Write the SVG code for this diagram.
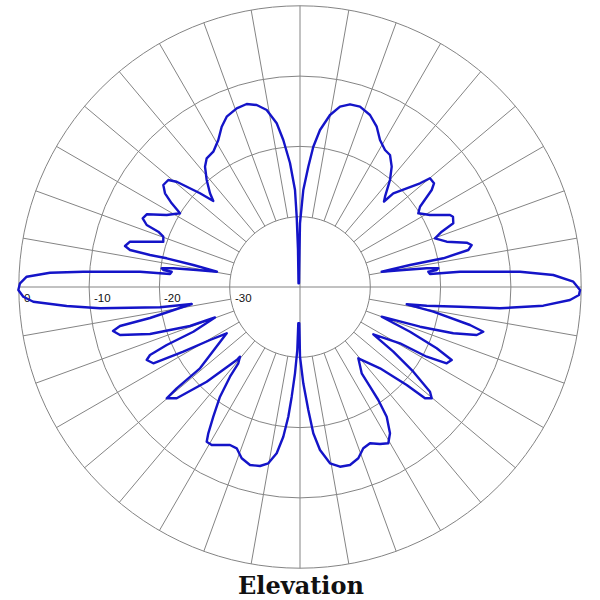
<svg xmlns="http://www.w3.org/2000/svg" xmlns:xlink="http://www.w3.org/1999/xlink" width="600" height="600" viewBox="0 0 600 600">
<style>
.grid{fill:none;stroke:#848484;stroke-width:1}
.lbl{font-family:"Liberation Sans",Arial,sans-serif;font-size:11.5px;fill:#111}
.title{font-family:"DejaVu Serif","Liberation Serif",serif;font-weight:bold;font-size:24px;fill:#111}
.pattern{fill:none;stroke:#1414c8;stroke-width:2.4;stroke-linejoin:round}
</style>
<defs>
<path id="spokes" class="grid" d="M369.23,274.79 L576.93,238.17 M366.06,262.96 L564.24,190.83 M360.88,251.85 L543.53,146.4 M353.85,241.81 L515.41,106.25 M345.19,233.15 L480.75,71.59 M335.15,226.12 L440.6,43.47 M324.04,220.94 L396.17,22.76 M312.21,217.77 L348.83,10.07"/>
</defs>
<rect width="600" height="600" fill="#fff"/>
<g id="grid">
<circle class="grid" cx="300" cy="287" r="70.3"/>
<circle class="grid" cx="300" cy="287" r="140.6"/>
<circle class="grid" cx="300" cy="287" r="210.9"/>
<circle class="grid" cx="300" cy="287" r="281.2"/>
<use xlink:href="#spokes"/>
<use xlink:href="#spokes" transform="rotate(90 300 287)"/>
<use xlink:href="#spokes" transform="rotate(180 300 287)"/>
<use xlink:href="#spokes" transform="rotate(270 300 287)"/>
<path class="grid" d="M18.8,287 H581.2 M300,5.8 V568.2"/>
</g>
<g id="labels">
<text class="lbl" x="24" y="302">0</text>
<text class="lbl" x="94" y="302">-10</text>
<text class="lbl" x="164" y="302">-20</text>
<text class="lbl" x="235" y="302">-30</text>
</g>
<g id="pattern">
<path class="pattern" d="M299,283.3 L299.5,250 L300,223.3 L303.3,190 L308.3,166.7 L313.3,146.7 L320,130 L330,115 L340,106.7 L350,104.3 L360,106.7 L370,115 L376.7,126.7 L380,140 L385,150 L390,155 L391.7,166.7 L390,180 L385,196.7 L384,201.5 L393.3,193.3 L420,183.3 L430,178.3 L434,183.3 L431.7,190 L420,206.7 L418.3,213.3 L430,215 L450,215 L453,216.7 L453.3,223.3 L441.7,231.7 L435,238.3 L446.7,241.7 L466.7,242.7 L471.7,245 L468.3,250 L443.3,258.3 L410,265 L381.7,271.7 L403.3,270 L426.7,268.3 L438.3,268.3 L436.7,270 L428.3,271.7 L430,274 L460,271.7 L520,271.7 L553.3,275 L573.3,281.7 L580,290 L579,295 L570,300 L543.3,305.7 L500,308.3 L460,306.7 L426.7,305.7 L406.7,304.3 L433.3,311.7 L470,325 L483.3,331.7 L476.7,335 L453.3,333.3 L420,326.7 L381.7,316.7 L410,331.7 L436.7,348.3 L451.7,360 L446.7,363.3 L426.7,356.7 L400,343.3 L373.3,334.3 L393.3,351.7 L413.3,371.7 L430,391.7 L431.7,398.3 L425,398.3 L406.7,385 L380,368.3 L358.3,358.3 L361.7,373.3 L370,386.7 L378.3,400 L386.7,416.7 L390,433.3 L388.3,443.3 L380,444 L370,443.3 L363.3,448.3 L358.3,458.3 L350,465 L340,466.7 L330,463.3 L320,450 L313.3,433.3 L308.3,410 L303.3,383.3 L300,356.7 L299.3,323.3 L298.3,323.3 L297.3,350 L295,373.3 L291.7,396.7 L288.3,416.7 L283.3,436.7 L276.7,453.3 L268.3,463.3 L260,466 L250,465 L241.7,458.3 L236.7,448.3 L230,445 L211.7,445 L206.7,441.7 L208.3,433.3 L213.3,416.7 L220,396.7 L230,376.7 L238.3,363.3 L240,356.7 L236.7,360 L206.7,381.7 L176.7,398.3 L166.7,398.3 L176.7,388.3 L200,368.3 L226.7,333.3 L210,340 L183.3,351.7 L153.3,363.3 L146.7,360 L150,355 L166.7,345 L193.3,331.7 L215,317.5 L190,326 L150,334 L120,335 L113,331 L120,326 L150,318 L191.7,304 L160,307.3 L100,308.3 L66.7,306 L33.3,301.7 L23.3,296.7 L18.3,290 L20,283.3 L26.7,276.7 L50,272.7 L83.3,271.7 L140,271.7 L170,274 L171.7,271.7 L163.3,270 L161.7,268.3 L173.3,268.3 L196.7,270 L217,271.7 L193.3,265 L166.7,258.3 L150,255 L130,250 L125,246 L130,241.7 L150,241.7 L163.3,241.7 L163.3,236.7 L158.3,231.7 L146.7,225 L142.7,218.3 L146.7,214.3 L166.7,215 L180,213.3 L171.7,203.3 L165,193.3 L163.3,185 L168.3,180 L176.7,181.7 L200,193.3 L213.3,201 L210,193.3 L206.7,180 L205,166.7 L206.7,158.3 L213.3,151.7 L218.3,140 L221.7,126.7 L226.7,116.7 L236.7,108.3 L246.7,104 L256.7,105 L266.7,110 L276.7,123.3 L283.3,140 L290,163 L295,190 L296.7,216.7 L298,250 L298.5,283.3 Z"/>
</g>
<text class="title" x="301" y="594" text-anchor="middle">Elevation</text>
</svg>
